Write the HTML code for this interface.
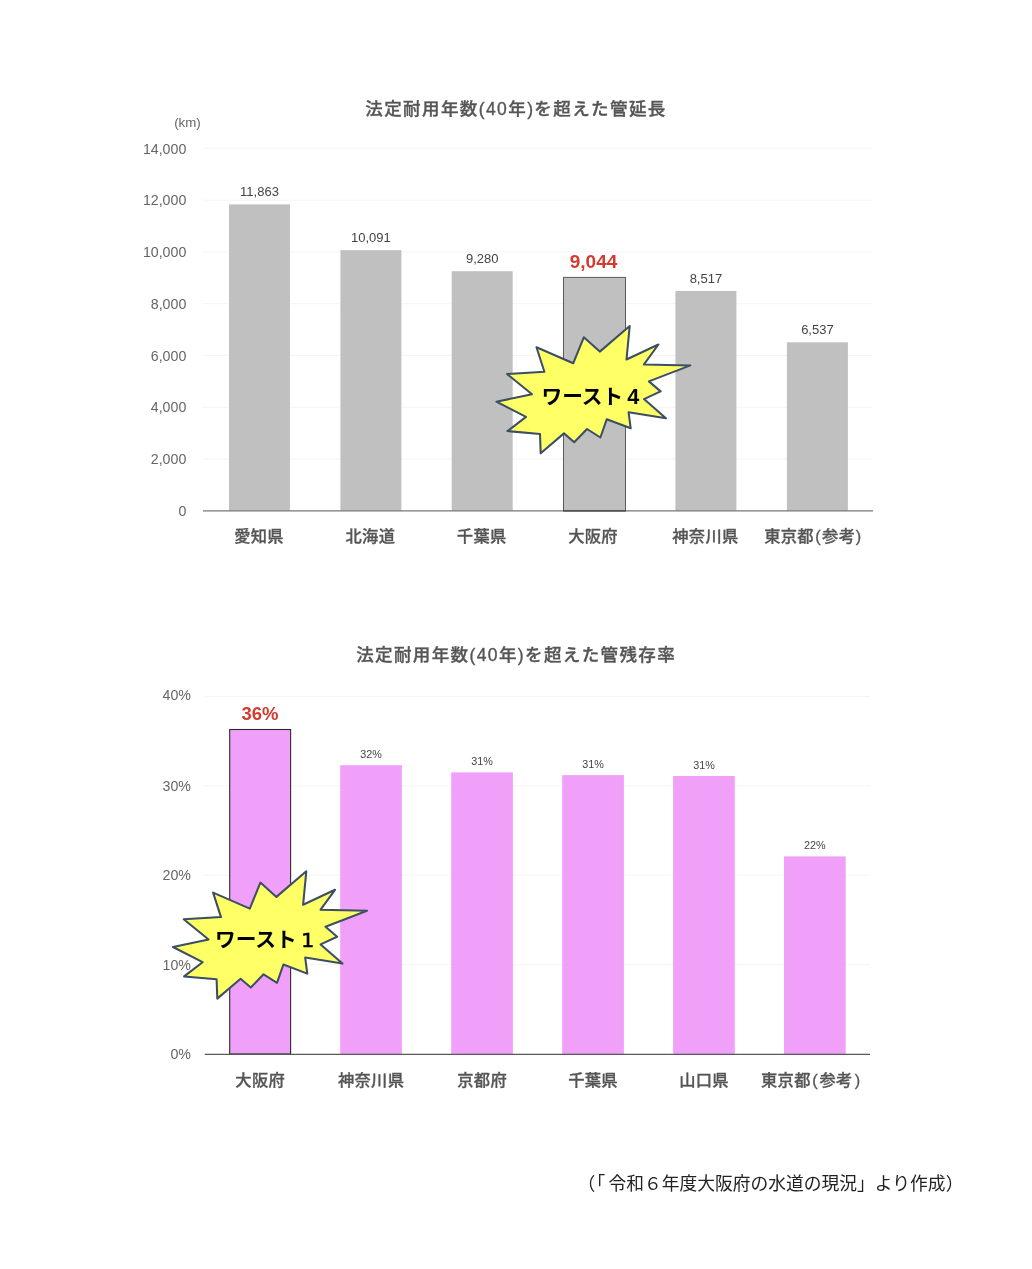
<!DOCTYPE html>
<html lang="ja">
<head>
<meta charset="utf-8">
<title>法定耐用年数(40年)を超えた管</title>
<style>
html,body{margin:0;padding:0;background:#fff;}
body{width:1032px;height:1269px;overflow:hidden;font-family:"Liberation Sans", "Noto Sans CJK JP", sans-serif;}
svg{display:block;}
text{font-family:"Liberation Sans", "Noto Sans CJK JP", sans-serif;}
.ttl{font-size:17.5px;font-weight:500;fill:#555;stroke:#555;stroke-width:0.35px;}
.yl{font-size:14.2px;fill:#666;text-anchor:end;}
.cat{font-size:16.3px;letter-spacing:0.3px;font-weight:500;fill:#555;stroke:#555;stroke-width:0.3px;text-anchor:middle;}
.val{font-size:13px;fill:#444;text-anchor:middle;}
.val2{font-size:10.8px;fill:#444;text-anchor:middle;}
.red{font-size:19px;font-weight:700;fill:#d53a2f;text-anchor:middle;}
.bt{font-size:20.7px;font-weight:700;fill:#000;}
.dj{font-family:"DejaVu Sans",sans-serif;font-size:20.3px;font-weight:400;stroke:#000;stroke-width:0.7px;}
.grid{stroke:#f4f4f4;stroke-width:1;}
.axis{stroke:#777;stroke-width:1.3;}
</style>
</head>
<body>
<svg width="1032" height="1269" viewBox="0 0 1032 1269">
<rect width="1032" height="1269" fill="#fff"/>

<g id="chart1">
<text class="ttl" x="365.3" y="115.2" textLength="300" lengthAdjust="spacing">法定耐用年数(40年)を超えた管延長</text>
<text x="174.2" y="127.2" font-size="13.3" fill="#666">(km)</text>
<text class="yl" x="186.3" y="516.0">0</text>
<line class="grid" x1="202.5" x2="873" y1="459.0" y2="459.0"/>
<text class="yl" x="186.3" y="464.2">2,000</text>
<line class="grid" x1="202.5" x2="873" y1="407.2" y2="407.2"/>
<text class="yl" x="186.3" y="412.4">4,000</text>
<line class="grid" x1="202.5" x2="873" y1="355.5" y2="355.5"/>
<text class="yl" x="186.3" y="360.7">6,000</text>
<line class="grid" x1="202.5" x2="873" y1="303.7" y2="303.7"/>
<text class="yl" x="186.3" y="308.9">8,000</text>
<line class="grid" x1="202.5" x2="873" y1="251.9" y2="251.9"/>
<text class="yl" x="186.3" y="257.1">10,000</text>
<line class="grid" x1="202.5" x2="873" y1="200.1" y2="200.1"/>
<text class="yl" x="186.3" y="205.3">12,000</text>
<line class="grid" x1="202.5" x2="873" y1="148.3" y2="148.3"/>
<text class="yl" x="186.3" y="153.5">14,000</text>
<rect x="229.0" y="204.4" width="61" height="306.4" fill="#c0c0c0"/>
<text class="val" x="259.5" y="196.4">11,863</text>
<text class="cat" x="259.0" y="541.6">愛知県</text>
<rect x="340.4" y="250.2" width="61" height="260.6" fill="#c0c0c0"/>
<text class="val" x="370.9" y="242.2">10,091</text>
<text class="cat" x="370.4" y="541.6">北海道</text>
<rect x="451.7" y="271.2" width="61" height="239.6" fill="#c0c0c0"/>
<text class="val" x="482.2" y="263.2">9,280</text>
<text class="cat" x="481.7" y="541.6">千葉県</text>
<rect x="563.5" y="277.4" width="62.0" height="233.4" fill="#c0c0c0" stroke="#5a5a5a" stroke-width="1"/>
<text class="red" x="593.5" y="267.5">9,044</text>
<text class="cat" x="593.0" y="541.6">大阪府</text>
<rect x="675.4" y="291.0" width="61" height="219.8" fill="#c0c0c0"/>
<text class="val" x="705.9" y="283.0">8,517</text>
<text class="cat" x="705.4" y="541.6">神奈川県</text>
<rect x="786.9" y="342.3" width="61" height="168.5" fill="#c0c0c0"/>
<text class="val" x="817.4" y="334.3">6,537</text>
<text class="cat" style="text-anchor:start" x="764.2" y="541.6">東京都<tspan dx="1.2">(</tspan><tspan dx="1.2">参考</tspan><tspan dx="0.5">)</tspan></text>
<line class="axis" x1="203" x2="873" y1="510.8" y2="510.8"/>
<line x1="563" x2="626" y1="510.8" y2="510.8" stroke="#444" stroke-width="1.3"/>
<polygon points="496.4,401.7 532.0,394.2 507.1,374.0 544.4,371.8 536.5,347.3 573.2,363.3 583.8,337.3 599.8,351.6 629.7,326.0 626.5,359.5 658.4,344.5 644.0,364.4 690.4,365.4 648.9,381.4 660.6,391.4 644.0,399.1 665.9,418.3 628.6,412.3 630.7,428.3 606.8,419.2 600.4,437.5 587.0,429.0 574.2,442.2 564.0,433.4 540.7,453.3 540.0,433.9 507.5,431.1 526.0,416.9" fill="#ffff66" stroke="#3b4e63" stroke-width="2.05" stroke-linejoin="round"/>
<text class="bt" y="403.5"><tspan x="541.5">ワースト </tspan><tspan x="627.3" font-size="21.6">4</tspan></text>
</g>
<g id="chart2">
<text class="ttl" x="356.2" y="661.2" textLength="318.5" lengthAdjust="spacing">法定耐用年数(40年)を超えた管残存率</text>
<text class="yl" x="191" y="1059.2">0%</text>
<line class="grid" x1="204" x2="870" y1="964.6" y2="964.6"/>
<text class="yl" x="191" y="969.8">10%</text>
<line class="grid" x1="204" x2="870" y1="875.2" y2="875.2"/>
<text class="yl" x="191" y="880.4">20%</text>
<line class="grid" x1="204" x2="870" y1="785.8" y2="785.8"/>
<text class="yl" x="191" y="791.0">30%</text>
<line class="grid" x1="204" x2="870" y1="696.4" y2="696.4"/>
<text class="yl" x="191" y="700.4">40%</text>
<rect x="229.7" y="729.5" width="60.9" height="324.5" fill="#f0a0f8" stroke="#2a2a2a" stroke-width="1.1"/>
<text class="red" style="font-size:18.5px" x="259.9" y="720.2">36%</text>
<text class="cat" x="260.2" y="1086">大阪府</text>
<rect x="340.2" y="765.2" width="61.7" height="288.8" fill="#f0a0f8"/>
<text class="val2" x="371.1" y="758.2">32%</text>
<text class="cat" x="371.1" y="1086">神奈川県</text>
<rect x="451.2" y="772.4" width="61.7" height="281.6" fill="#f0a0f8"/>
<text class="val2" x="482.1" y="765.4">31%</text>
<text class="cat" x="482.1" y="1086">京都府</text>
<rect x="562.2" y="775.1" width="61.7" height="278.9" fill="#f0a0f8"/>
<text class="val2" x="593.0" y="768.1">31%</text>
<text class="cat" x="593.0" y="1086">千葉県</text>
<rect x="673.1" y="776.0" width="61.7" height="278.0" fill="#f0a0f8"/>
<text class="val2" x="704.0" y="769.0">31%</text>
<text class="cat" x="704.0" y="1086">山口県</text>
<rect x="784.0" y="856.4" width="61.7" height="197.6" fill="#f0a0f8"/>
<text class="val2" x="814.9" y="849.4">22%</text>
<text class="cat" style="text-anchor:start" x="761" y="1086">東京都<tspan dx="1.5">(</tspan><tspan dx="1.5">参考</tspan><tspan dx="2">)</tspan></text>
<line x1="204.8" x2="870" y1="1054.4" y2="1054.4" stroke="#5a5a5a" stroke-width="1.1"/>
<g transform="translate(-323.4,545.3)"><polygon points="496.4,401.7 532.0,394.2 507.1,374.0 544.4,371.8 536.5,347.3 573.2,363.3 583.8,337.3 599.8,351.6 629.7,326.0 626.5,359.5 658.4,344.5 644.0,364.4 690.4,365.4 648.9,381.4 660.6,391.4 644.0,399.1 665.9,418.3 628.6,412.3 630.7,428.3 606.8,419.2 600.4,437.5 587.0,429.0 574.2,442.2 564.0,433.4 540.7,453.3 540.0,433.9 507.5,431.1 526.0,416.9" fill="#ffff66" stroke="#3b4e63" stroke-width="2.05" stroke-linejoin="round"/>
<text class="bt" y="401.6"><tspan x="538.4">ワースト </tspan><tspan x="624.6" class="dj">1</tspan></text></g>
</g>
<text y="1190" font-size="17.75" fill="#222" style="text-spacing-trim:space-all"><tspan x="577.5">（</tspan><tspan x="587.6">「</tspan><tspan x="608.6">令和６年度大阪府の水道の現況」より作成</tspan><tspan x="945.8">）</tspan></text>
</svg>
</body>
</html>
